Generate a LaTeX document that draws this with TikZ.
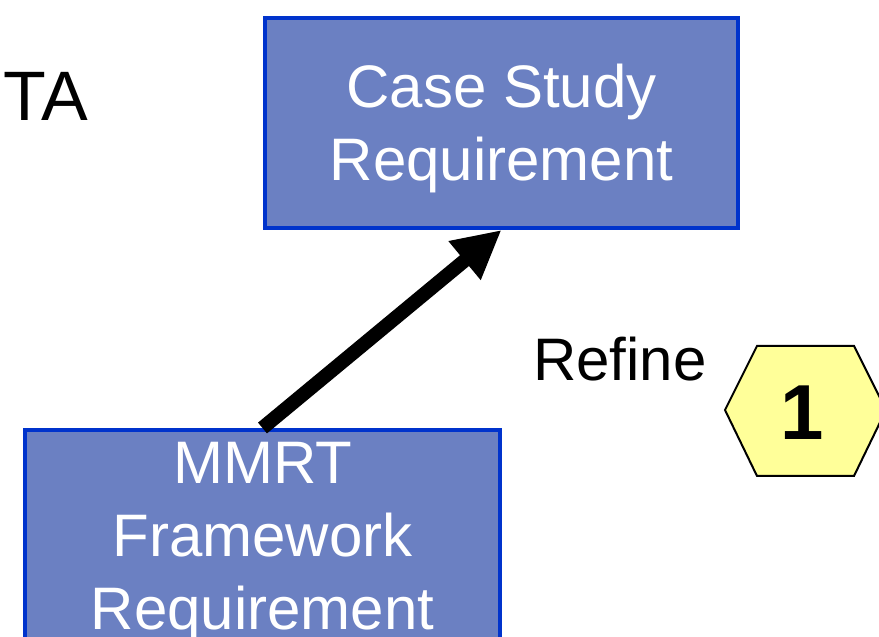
\documentclass[tikz,border=0pt]{standalone}
\usepackage{fontspec}
\setmainfont{Liberation Sans}
\usetikzlibrary{arrows.meta}
\definecolor{reqblue}{HTML}{0033CC}
\definecolor{reqfill}{HTML}{6B80C2}
\definecolor{hexfill}{HTML}{FFFF99}
\begin{document}
\begin{tikzpicture}[x=1pt,y=1pt,
    reqbox/.style={draw=reqblue,fill=reqfill,line width=4pt,text=white,
      font=\fontsize{60}{73}\selectfont,align=center,inner sep=0pt},
    bigtext/.style={inner sep=0pt,font=\fontsize{60}{72}\selectfont}]
    \useasboundingbox (0,0) rectangle (879,637);
    \fill[white] (0,0) rectangle (879,637);
    % requirement boxes
    \node[reqbox,minimum width=473pt,minimum height=210pt] (study) at (501.5,514)
      {\rule{0pt}{55pt}Case Study\\ Requirement};
    \node[reqbox,minimum width=475pt,minimum height=224pt] (framework) at (262.5,95)
      {MMRT\\ Framework\\ Requirement};
    \draw[line width=14pt,-{Triangle[length=48pt,width=47pt]}] (framework.north) -- (study.south);
    % labels
    \node[inner sep=0pt,font=\fontsize{70}{84}\selectfont,anchor=base east] (ta) at (88,516) {TA};
    \node[bigtext,anchor=base west] (refine) at (533,256) {Refine};
    % step marker
    \fill[hexfill,draw=black,line width=2pt] (725,227) -- (757,291) -- (854,291)
      -- (886,227) -- (854,161) -- (757,161) -- cycle;
    \node[inner sep=0pt,font=\fontsize{78}{94}\selectfont\bfseries] (step1) at (802,224) {1};
\end{tikzpicture}
\end{document}
